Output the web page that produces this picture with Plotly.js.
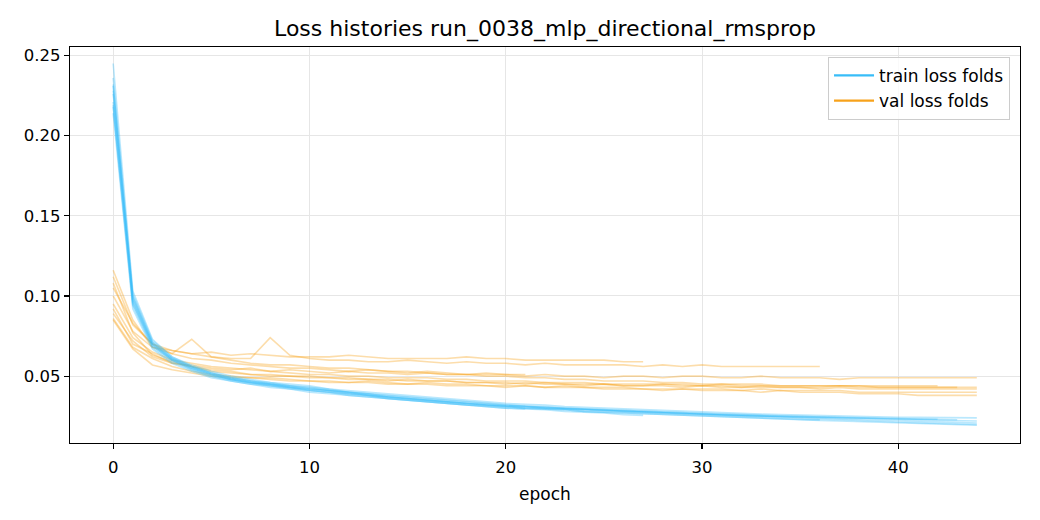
<!DOCTYPE html>
<html>
<head>
<meta charset="utf-8">
<script src="https://cdn.plot.ly/plotly-3.0.1.min.js"></script>
<style>html,body{margin:0;padding:0;background:#fff;}#chart{width:1040px;height:520px;}</style>
</head>
<body>
<div id="chart"></div>
<script>
const chartTitle = "Loss histories run_0038_mlp_directional_rmsprop";
const xLabel = "epoch";
const trainLabel = "train loss folds";
const valLabel = "val loss folds";
const yTickVals = [0.05, 0.10, 0.15, 0.20, 0.25];
const xTickVals = [0, 10, 20, 30, 40];

const train0 = [0.245,0.103,0.073,0.062,0.057,0.053,0.050,0.048,0.046,0.045,0.044,0.042,0.041,0.040,0.039,0.038,0.037,0.036,0.035,0.034,0.033,0.0325,0.032,0.031,0.0305,0.030,0.0295,0.029,0.0285,0.028,0.0275,0.027,0.0268,0.0263,0.026,0.0257,0.0254,0.025,0.0248,0.0246,0.0244,0.0243,0.0242,0.0241,0.024];
const train1 = [0.232,0.096,0.069,0.060,0.055,0.051,0.048,0.046,0.044,0.043,0.041,0.040,0.038,0.037,0.036,0.035,0.034,0.033,0.032,0.031,0.030,0.0295,0.029,0.028,0.0275,0.027,0.026,0.0255];
const train2 = [0.218,0.094,0.068,0.059,0.054,0.050,0.047,0.045,0.044,0.042,0.041,0.040,0.039,0.038,0.037,0.036,0.035,0.034,0.033,0.032,0.031,0.0305,0.030,0.0295,0.029,0.0285,0.028,0.0275,0.027,0.0265,0.026,0.0255,0.025,0.0245,0.024,0.0235,0.023,0.0226,0.0222,0.0218,0.0214,0.021,0.0206,0.0202,0.0198];
const train3 = [0.228,0.099,0.071,0.061,0.056,0.052,0.049,0.047,0.045,0.044,0.042,0.041,0.040,0.039,0.037,0.036,0.035,0.034,0.033,0.032,0.031,0.030,0.0295,0.029,0.028,0.0275,0.027,0.0265,0.026,0.0255,0.025,0.0245,0.024,0.0237,0.0234,0.023,0.0227];
const train4 = [0.236,0.101,0.072,0.062,0.056,0.052,0.049,0.047,0.046,0.044,0.043,0.042,0.040,0.039,0.038,0.037,0.036,0.035,0.034,0.033,0.032,0.0315,0.031,0.030,0.0295,0.029,0.0285,0.028,0.0275,0.027,0.0267,0.0263,0.026,0.0256,0.0252,0.0248,0.0245,0.0242,0.0238,0.0235,0.0232,0.0228,0.0225,0.0222,0.022];
const train5 = [0.221,0.097,0.070,0.060,0.055,0.051,0.048,0.046,0.045,0.043,0.042,0.041,0.039,0.038,0.037,0.036,0.035,0.034,0.033,0.0325,0.0315,0.031,0.0305,0.030,0.0295,0.029,0.0283,0.0278,0.0273,0.0268,0.0264,0.026,0.0256,0.0252,0.0248,0.0245,0.0242,0.024,0.0238,0.0236,0.0234,0.0232,0.023,0.0228];
const train6 = [0.214,0.092,0.067,0.058,0.053,0.049,0.047,0.045,0.043,0.042,0.040,0.039,0.038,0.037,0.036,0.035,0.034,0.033,0.032,0.031,0.030,0.0295];
const train7 = [0.226,0.098,0.070,0.061,0.055,0.051,0.048,0.046,0.045,0.043,0.042,0.041,0.040,0.038,0.037,0.036,0.035,0.034,0.033,0.032,0.0315,0.031,0.030,0.0295,0.029,0.0285,0.028,0.0275,0.027,0.0265,0.026,0.0257,0.0253,0.025,0.0246,0.0242,0.0238,0.0235,0.0231,0.0228,0.0224,0.022,0.0216,0.0212,0.0208];
const train8 = [0.231,0.100,0.071,0.061,0.056,0.052,0.049,0.047,0.045,0.044,0.043,0.041,0.040,0.039,0.038,0.037,0.036,0.035,0.034,0.033,0.032,0.0312,0.0305,0.030,0.0293,0.0287,0.028,0.0275,0.027,0.0266,0.0262,0.0258,0.0255,0.0252,0.0249,0.0246,0.0243,0.0241,0.0239,0.0237,0.0235,0.0233,0.0231];
const train9 = [0.219,0.095,0.069,0.060,0.054,0.050,0.048,0.046,0.044,0.043,0.041,0.040,0.039,0.038,0.036,0.035,0.034,0.033,0.032,0.0315,0.031,0.030,0.0295,0.029,0.028,0.0275,0.027,0.0265,0.026,0.0255,0.025,0.0245,0.024,0.0236,0.0232,0.0228,0.0224,0.022,0.0216,0.0212,0.0208,0.0204,0.020,0.0197,0.0194];

const val0 = [0.105,0.083,0.070,0.064,0.061,0.060,0.058,0.057,0.056,0.055,0.055,0.054,0.053,0.054,0.053,0.052,0.053,0.052,0.051,0.052,0.051,0.050,0.051,0.050,0.050,0.049,0.050,0.050,0.049,0.050,0.050,0.049,0.049,0.050,0.049,0.049,0.049,0.048,0.049,0.049,0.049,0.049,0.049,0.049,0.049];
const val1 = [0.100,0.078,0.068,0.066,0.064,0.065,0.063,0.064,0.063,0.062,0.062,0.062,0.063,0.062,0.061,0.061,0.061,0.061,0.062,0.061,0.061,0.060,0.060,0.060,0.060,0.060,0.059,0.059];
const val2 = [0.089,0.072,0.062,0.058,0.056,0.053,0.052,0.051,0.050,0.050,0.049,0.049,0.048,0.048,0.047,0.048,0.047,0.047,0.046,0.046,0.046,0.045,0.046,0.045,0.045,0.045,0.044,0.044,0.045,0.044,0.044,0.044,0.043,0.044,0.043,0.043,0.043,0.044,0.043,0.043,0.043,0.043,0.043,0.043,0.043];
const val3 = [0.112,0.082,0.070,0.066,0.064,0.062,0.061,0.061,0.074,0.063,0.061,0.060,0.060,0.059,0.059,0.060,0.059,0.058,0.059,0.058,0.058,0.057,0.058,0.057,0.057,0.057,0.057,0.056,0.057,0.056,0.057,0.056,0.056,0.056,0.056,0.056,0.056];
const val4 = [0.086,0.068,0.061,0.056,0.053,0.051,0.050,0.049,0.049,0.048,0.047,0.047,0.046,0.047,0.046,0.045,0.046,0.045,0.045,0.044,0.044,0.044,0.043,0.044,0.043,0.043,0.043,0.042,0.042,0.042,0.042,0.042,0.041,0.042,0.041,0.041,0.041,0.041,0.040,0.040,0.040,0.040,0.040,0.040,0.040];
const val5 = [0.116,0.085,0.068,0.064,0.073,0.062,0.060,0.058,0.057,0.057,0.056,0.055,0.055,0.054,0.053,0.053,0.052,0.051,0.051,0.050,0.050,0.049,0.049,0.048,0.048,0.047,0.047,0.047,0.046,0.046,0.045,0.045,0.045,0.045,0.044,0.044,0.044,0.044,0.044,0.043,0.043,0.043,0.043,0.043];
const val6 = [0.095,0.074,0.065,0.060,0.058,0.056,0.055,0.054,0.053,0.054,0.053,0.052,0.053,0.052,0.052,0.051,0.052,0.051,0.051,0.051,0.051,0.051];
const val7 = [0.108,0.077,0.063,0.059,0.056,0.054,0.053,0.051,0.051,0.050,0.050,0.049,0.049,0.048,0.048,0.047,0.047,0.047,0.046,0.046,0.045,0.046,0.045,0.045,0.044,0.045,0.044,0.044,0.044,0.043,0.044,0.043,0.043,0.043,0.043,0.043,0.042,0.043,0.042,0.042,0.042,0.042,0.042,0.042,0.042];
const val8 = [0.092,0.070,0.064,0.058,0.057,0.055,0.054,0.055,0.053,0.052,0.051,0.051,0.050,0.050,0.049,0.049,0.049,0.048,0.048,0.047,0.047,0.047,0.046,0.046,0.046,0.045,0.045,0.045,0.045,0.045,0.044,0.045,0.044,0.044,0.044,0.044,0.044,0.044,0.044,0.044,0.044,0.044,0.044];
const val9 = [0.085,0.067,0.057,0.054,0.052,0.050,0.049,0.049,0.048,0.047,0.047,0.046,0.046,0.046,0.045,0.045,0.045,0.044,0.044,0.044,0.043,0.044,0.043,0.043,0.043,0.042,0.042,0.042,0.041,0.042,0.041,0.041,0.041,0.040,0.041,0.040,0.040,0.040,0.039,0.039,0.039,0.038,0.038,0.038,0.038];

const trainFolds = [train0,train1,train2,train3,train4,train5,train6,train7,train8,train9];
const valFolds = [val0,val1,val2,val3,val4,val5,val6,val7,val8,val9];

const trainColor = "#38bdf8";
const valColor = "#f7a21b";
const font = "DejaVu Sans, sans-serif";

const epochs = arr => arr.map((_, i) => i);
const traces = [];
valFolds.forEach(v => traces.push({
  x: epochs(v), y: v, type: "scatter", mode: "lines",
  line: {color: valColor, width: 1.6}, opacity: 0.37, showlegend: false, hoverinfo: "skip"
}));
trainFolds.forEach(t => traces.push({
  x: epochs(t), y: t, type: "scatter", mode: "lines",
  line: {color: trainColor, width: 1.6}, opacity: 0.35, showlegend: false, hoverinfo: "skip"
}));
traces.push({x: [null], y: [null], type: "scatter", mode: "lines", name: trainLabel, line: {color: trainColor, width: 2.2}});
traces.push({x: [null], y: [null], type: "scatter", mode: "lines", name: valLabel, line: {color: valColor, width: 2.2}});

const axisCommon = {
  showline: true, linecolor: "#000", linewidth: 1.2, mirror: true,
  ticks: "outside", ticklen: 5, tickwidth: 1.2, tickcolor: "#000",
  showgrid: true, gridcolor: "#e6e6e6", gridwidth: 1, zeroline: false,
  tickfont: {family: font, size: 16.5, color: "#000"}
};

const layout = {
  width: 1040, height: 520,
  paper_bgcolor: "#fff", plot_bgcolor: "#fff",
  margin: {l: 70, r: 20, t: 47, b: 77},
  title: {text: chartTitle, font: {family: font, size: 22, color: "#000"}, xref: "paper", x: 0.5, xanchor: "center", y: 0.946, yanchor: "middle"},
  xaxis: Object.assign({}, axisCommon, {range: [-2.2, 46.2], tickvals: xTickVals, ticklabelstandoff: 4,
    title: {text: xLabel, font: {family: font, size: 17, color: "#000"}, standoff: 12}}),
  yaxis: Object.assign({}, axisCommon, {range: [0.0083, 0.2553], tickvals: yTickVals, tickformat: ".2f"}),
  showlegend: true,
  legend: {x: 0.9895, xanchor: "right", y: 0.975, yanchor: "top",
    bgcolor: "rgba(255,255,255,0.8)", bordercolor: "#cccccc", borderwidth: 1,
    font: {family: font, size: 17, color: "#000"}, tracegroupgap: 2, itemwidth: 40}
};

Plotly.newPlot("chart", traces, layout, {staticPlot: true, displayModeBar: false});
</script>
</body>
</html>
